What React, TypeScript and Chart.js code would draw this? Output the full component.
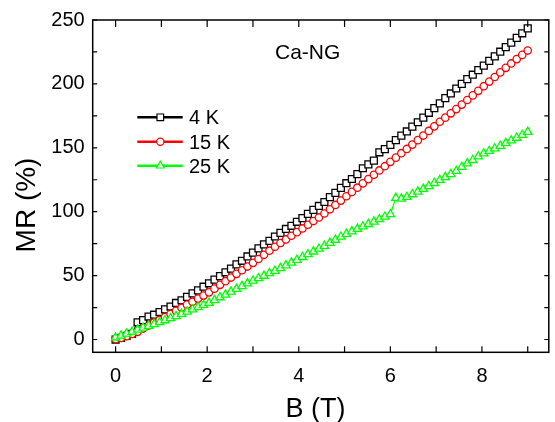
import React, { useEffect, useRef } from "react";
import { Chart, registerables } from "chart.js";

Chart.register(...registerables);

// ---------- data ----------
const B_FIELD = [
  0, 0.12, 0.24, 0.36, 0.48, 0.6, 0.72, 0.84, 0.96, 1.08,
  1.2, 1.32, 1.44, 1.56, 1.68, 1.8, 1.92, 2.04, 2.16, 2.28,
  2.4, 2.52, 2.64, 2.76, 2.88, 3.0, 3.12, 3.24, 3.36, 3.48,
  3.6, 3.72, 3.84, 3.96, 4.08, 4.2, 4.32, 4.44, 4.56, 4.68,
  4.8, 4.92, 5.04, 5.16, 5.28, 5.4, 5.52, 5.64, 5.76, 5.88,
  6.0, 6.12, 6.24, 6.36, 6.48, 6.6, 6.72, 6.84, 6.96, 7.08,
  7.2, 7.32, 7.44, 7.56, 7.68, 7.8, 7.92, 8.04, 8.16, 8.28,
  8.4, 8.52, 8.64, 8.76, 8.88, 9.0,
];

const MR_4K = [
  0, 1.2, 2.8, 4.5, 13.5, 15.2, 18.0, 19.4, 21.5, 23.6,
  25.8, 28.6, 30.7, 33.4, 36.1, 38.5, 41.3, 44.0, 46.9, 49.6,
  52.6, 55.5, 58.8, 61.6, 65.0, 68.0, 71.3, 74.4, 77.2, 80.6,
  83.4, 86.5, 89.0, 92.1, 95.0, 98.3, 101.4, 104.5, 107.6, 111.4,
  114.7, 118.6, 122.3, 125.6, 129.4, 134.0, 137.0, 140.0, 146.5, 149.0,
  152.3, 156.0, 159.5, 162.8, 166.6, 170.0, 173.6, 177.4, 181.0, 184.8,
  188.9, 192.5, 196.4, 200.0, 203.7, 207.2, 210.8, 214.3, 218.0, 221.5,
  225.2, 228.8, 232.3, 236.0, 239.6, 243.4,
];

const MR_15K = [
  0.3, 1.2, 2.6, 4.3, 6.0, 8.6, 11.0, 13.2, 15.3, 17.6,
  20.0, 22.4, 24.9, 27.3, 29.6, 32.0, 34.4, 36.9, 39.8, 42.8,
  45.6, 48.5, 51.4, 54.2, 57.1, 60.0, 63.0, 66.3, 69.5, 72.6,
  75.5, 78.3, 81.2, 84.0, 86.9, 89.8, 92.7, 95.5, 98.6, 101.9,
  105.3, 108.7, 112.1, 115.5, 118.8, 122.2, 125.5, 128.9, 132.3, 135.6,
  139.0, 142.3, 145.8, 149.1, 152.5, 156.0, 159.6, 163.2, 166.8, 170.4,
  173.6, 177.0, 180.3, 183.8, 187.4, 191.0, 194.6, 198.2, 201.8, 205.4,
  209.0, 212.6, 216.0, 219.4, 222.7, 226.1,
];

const MR_25K = [
  1.5, 3.0, 4.6, 6.0, 7.7, 9.2, 10.6, 12.0, 13.5, 15.0,
  16.6, 18.3, 20.0, 21.8, 23.5, 25.2, 27.0, 28.6, 30.8, 33.0,
  35.1, 37.4, 39.6, 41.7, 43.9, 46.0, 47.9, 49.8, 51.8, 53.7,
  55.8, 58.0, 60.1, 62.3, 64.5, 66.7, 68.8, 71.0, 73.2, 75.6,
  78.0, 80.4, 82.6, 84.6, 86.5, 88.4, 90.3, 92.2, 94.1, 96.0,
  98.0, 110.8, 110.2, 111.5, 113.6, 115.7, 117.8, 120.0, 122.4, 124.8,
  127.0, 129.4, 131.8, 135.0, 137.8, 140.4, 143.2, 145.5, 147.5, 149.4,
  151.5, 153.6, 155.7, 157.8, 160.0, 162.4,
];

const SERIES_LABELS = ["4 K", "15 K", "25 K"];
const SERIES_COLORS = ["#000000", "#ff0000", "#00ff00"];
const X_TICKS = [0, 1, 2, 3, 4, 5, 6, 7, 8, 9];
const X_LABELED = [0, 2, 4, 6, 8];
const Y_TICKS = [0, 25, 50, 75, 100, 125, 150, 175, 200, 225, 250];
const Y_LABELED = [0, 50, 100, 150, 200, 250];
const SAMPLE_NAME = "Ca-NG";
const X_TITLE = "B (T)";
const Y_TITLE = "MR (%)";

const FONT = "'Liberation Sans', Arial, Helvetica, sans-serif";

function toPoints(ys: number[]) {
  return B_FIELD.map((b, i) => ({ x: b, y: ys[i] }));
}

function drawMarker(ctx: CanvasRenderingContext2D, kind: string, x: number, y: number, color: string) {
  ctx.save();
  ctx.fillStyle = "#ffffff";
  ctx.strokeStyle = color;
  ctx.lineWidth = 1.2;
  ctx.beginPath();
  if (kind === "rect") {
    ctx.rect(x - 3.3, y - 3.3, 6.6, 6.6);
  } else if (kind === "circle") {
    ctx.arc(x, y, 3.6, 0, Math.PI * 2);
  } else {
    const r = 4.6;
    ctx.moveTo(x, y - r);
    ctx.lineTo(x + r * 0.866, y + r * 0.5);
    ctx.lineTo(x - r * 0.866, y + r * 0.5);
    ctx.closePath();
  }
  ctx.fill();
  ctx.stroke();
  ctx.restore();
}

const decorPlugin = {
  id: "decor",
  afterDraw(chart: any) {
    const ctx: CanvasRenderingContext2D = chart.ctx;
    const { left, right, top, bottom } = chart.chartArea;
    const xs = chart.scales.x;
    const ys = chart.scales.y;
    ctx.save();
    ctx.strokeStyle = "#000";
    ctx.lineWidth = 1.5;
    ctx.strokeRect(left, top, right - left, bottom - top);
    ctx.lineWidth = 1.2;
    ctx.beginPath();
    for (const v of X_TICKS) {
      const px = xs.getPixelForValue(v);
      ctx.moveTo(px, bottom);
      ctx.lineTo(px, bottom - 6);
      ctx.moveTo(px, top);
      ctx.lineTo(px, top + 7);
    }
    for (const v of Y_TICKS) {
      const py = ys.getPixelForValue(v);
      ctx.moveTo(left, py);
      ctx.lineTo(left + 4.5, py);
      ctx.moveTo(right, py);
      ctx.lineTo(right - 4.5, py);
    }
    ctx.stroke();

    ctx.fillStyle = "#000";
    ctx.font = `27px ${FONT}`;
    ctx.textAlign = "center";
    ctx.textBaseline = "alphabetic";
    ctx.fillText(X_TITLE, 315.6, 417.4);
    ctx.save();
    ctx.translate(35, 205);
    ctx.rotate(-Math.PI / 2);
    ctx.font = `28px ${FONT}`;
    ctx.fillText(Y_TITLE, 0, 0);
    ctx.restore();

    ctx.font = `21px ${FONT}`;
    ctx.textAlign = "left";
    ctx.fillText(SAMPLE_NAME, 275, 58.5);

    const kinds = ["rect", "circle", "triangle"];
    const rowY = [117.3, 141.7, 165.7];
    for (let i = 0; i < SERIES_LABELS.length; i++) {
      const y = rowY[i];
      ctx.strokeStyle = SERIES_COLORS[i];
      ctx.lineWidth = 2.6;
      ctx.beginPath();
      ctx.moveTo(137.3, y);
      ctx.lineTo(182.7, y);
      ctx.stroke();
      drawMarker(ctx, kinds[i], 160.3, y, SERIES_COLORS[i]);
      ctx.fillStyle = "#000";
      ctx.font = `20px ${FONT}`;
      ctx.textAlign = "left";
      ctx.fillText(SERIES_LABELS[i], 189, y + 6.8);
    }
    ctx.restore();
  },
};

export default function App() {
  const ref = useRef<HTMLCanvasElement | null>(null);
  useEffect(() => {
    if (!ref.current) return;
    const tickFont = { family: FONT, size: 20 };
    const mk = (i: number, style: string, r: number, ys: number[], order: number) => ({
      label: SERIES_LABELS[i],
      data: toPoints(ys),
      borderColor: SERIES_COLORS[i],
      backgroundColor: "#ffffff",
      borderWidth: 1.2,
      pointStyle: style,
      pointRadius: r,
      pointBorderWidth: 1.3,
      pointBackgroundColor: "#ffffff",
      pointBorderColor: SERIES_COLORS[i],
      order,
    });
    const chart = new Chart(ref.current, {
      type: "line",
      data: {
        datasets: [
          mk(0, "rect", 4.9, MR_4K, 3),
          mk(1, "circle", 3.7, MR_15K, 2),
          mk(2, "triangle", 4.8, MR_25K, 1),
        ],
      },
      options: {
        responsive: false,
        animation: false,
        devicePixelRatio: 1,
        events: [],
        layout: { padding: { top: 12.7, right: 0, left: 0, bottom: 0 } },
        plugins: { legend: { display: false }, tooltip: { enabled: false } },
        scales: {
          x: {
            type: "linear",
            min: -0.5,
            max: 9.46,
            afterBuildTicks: (s: any) => {
              s.ticks = X_TICKS.map((v) => ({ value: v }));
            },
            afterFit: (s: any) => {
              s.height = 69.7;
            },
            grid: { display: false, drawTicks: false },
            border: { display: false },
            ticks: {
              autoSkip: false,
              maxRotation: 0,
              padding: 12,
              color: "#000",
              font: tickFont,
              callback: (v: any) => (X_LABELED.includes(Number(v)) ? String(v) : ""),
            },
          },
          y: {
            type: "linear",
            min: -10,
            max: 250,
            afterBuildTicks: (s: any) => {
              s.ticks = Y_TICKS.map((v) => ({ value: v }));
            },
            afterFit: (s: any) => {
              s.width = 92.7;
            },
            grid: { display: false, drawTicks: false },
            border: { display: false },
            ticks: {
              autoSkip: false,
              padding: 8,
              color: "#000",
              font: tickFont,
              callback: (v: any) => (Y_LABELED.includes(Number(v)) ? String(v) : ""),
            },
          },
        },
      },
      plugins: [decorPlugin],
    } as any);
    return () => chart.destroy();
  }, []);

  return (
    <canvas
      ref={ref}
      width={555}
      height={422}
      style={{ position: "fixed", left: 0, top: 0, width: 555, height: 422, background: "#fff" }}
    />
  );
}
